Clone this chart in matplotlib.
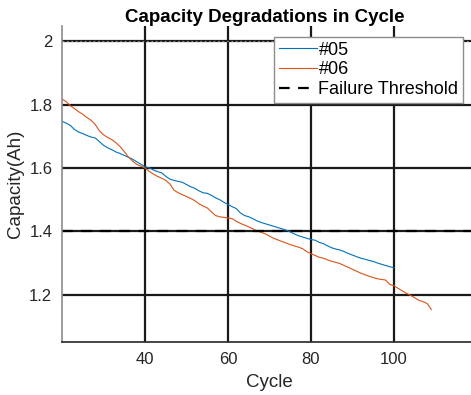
import matplotlib
matplotlib.use('Agg')
import matplotlib.pyplot as plt

plt.rcParams['font.family'] = ['Liberation Sans', 'DejaVu Sans']

# cycle index and capacity (Ah)
cycles_05 = list(range(20, 101))
capacity_05 = [
    1.748, 1.742, 1.735, 1.722, 1.714, 1.709, 1.703, 1.698, 1.695, 1.684,
    1.672, 1.664, 1.658, 1.651, 1.646, 1.640, 1.634, 1.628, 1.620, 1.612,
    1.604, 1.601, 1.594, 1.589, 1.585, 1.574, 1.565, 1.561, 1.558, 1.555,
    1.548, 1.541, 1.536, 1.528, 1.522, 1.520, 1.514, 1.506, 1.500, 1.492,
    1.485, 1.478, 1.472, 1.458, 1.450, 1.446, 1.440, 1.433, 1.428, 1.424,
    1.420, 1.416, 1.412, 1.408, 1.404, 1.398, 1.392, 1.386, 1.382, 1.378,
    1.374, 1.372, 1.365, 1.361, 1.354, 1.348, 1.344, 1.341, 1.336, 1.330,
    1.325, 1.320, 1.315, 1.312, 1.308, 1.305, 1.300, 1.296, 1.292, 1.288,
    1.285,
]

cycles_06 = list(range(20, 110))
capacity_06 = [
    1.818, 1.810, 1.797, 1.788, 1.778, 1.770, 1.760, 1.751, 1.738, 1.718,
    1.705, 1.697, 1.690, 1.680, 1.668, 1.652, 1.635, 1.622, 1.612, 1.606,
    1.600, 1.590, 1.581, 1.574, 1.568, 1.561, 1.550, 1.530, 1.522, 1.516,
    1.510, 1.504, 1.497, 1.487, 1.480, 1.474, 1.462, 1.450, 1.446, 1.444,
    1.442, 1.440, 1.432, 1.425, 1.420, 1.414, 1.408, 1.401, 1.397, 1.392,
    1.385, 1.378, 1.373, 1.368, 1.363, 1.358, 1.354, 1.350, 1.345, 1.336,
    1.329, 1.324, 1.318, 1.315, 1.310, 1.305, 1.302, 1.298, 1.292, 1.286,
    1.280, 1.274, 1.268, 1.263, 1.258, 1.254, 1.250, 1.248, 1.246, 1.232,
    1.228, 1.220, 1.212, 1.204, 1.198, 1.190, 1.182, 1.178, 1.172, 1.153,
]

failure_threshold = 1.4
x_ticks = [40, 60, 80, 100]
y_ticks = [1.2, 1.4, 1.6, 1.8, 2.0]
y_tick_labels = ['1.2', '1.4', '1.6', '1.8', '2']

dark = '#262626'

fig = plt.figure(figsize=(4.71, 3.95), dpi=100)
# axes run past the right edge, as in the original export
ax = fig.add_axes([0.1316, 0.134, 0.881, 0.801])

ax.plot(cycles_05, capacity_05, color='#0072BD', lw=0.8, label='#05')
ax.plot(cycles_06, capacity_06, color='#D95319', lw=0.8, label='#06')
ax.axhline(failure_threshold, color='black', lw=1.6, ls=(0, (4.8, 3.8)),
           label='Failure Threshold')
# faint dotted overlay on the top grid line
ax.axhline(y_ticks[-1], color='#8a8a8a', lw=0.8, ls=(0, (1.5, 2.5)), zorder=3)

ax.set_xlim(20, 120)
ax.set_ylim(1.05, 2.05)
ax.set_xticks(x_ticks)
ax.set_yticks(y_ticks)
ax.set_yticklabels(y_tick_labels)
ax.grid(True, color='#1a1a1a', lw=1.6, alpha=1)
ax.set_axisbelow(True)
ax.tick_params(length=0, labelsize=12, colors=dark, pad=7)

ax.spines['top'].set_visible(False)
ax.spines['right'].set_visible(False)
ax.spines['left'].set_color('#8c8c8c')
ax.spines['left'].set_linewidth(1.2)
ax.spines['bottom'].set_color(dark)
ax.spines['bottom'].set_linewidth(1.2)

ax.set_xlabel('Cycle', fontsize=13.5, color=dark, labelpad=5)
ax.set_ylabel('Capacity(Ah)', fontsize=13.5, color=dark, labelpad=4)
fig.text(0.563, 0.955, 'Capacity Degradations in Cycle', ha='center',
         va='center', fontsize=13.5, fontweight='bold', color='black')

leg = ax.legend(loc='upper right', bbox_to_anchor=(0.983, 0.906),
                bbox_transform=fig.transFigure, borderaxespad=0,
                fontsize=13, frameon=True, fancybox=False, framealpha=1,
                edgecolor='#8c8c8c', handlelength=2.1, handletextpad=0.1,
                labelspacing=0.15, borderpad=0.25)
leg.get_frame().set_linewidth(1.0)
for txt in leg.get_texts():
    txt.set_color('black')

fig.savefig('out.png', dpi=100)
plt.close(fig)
